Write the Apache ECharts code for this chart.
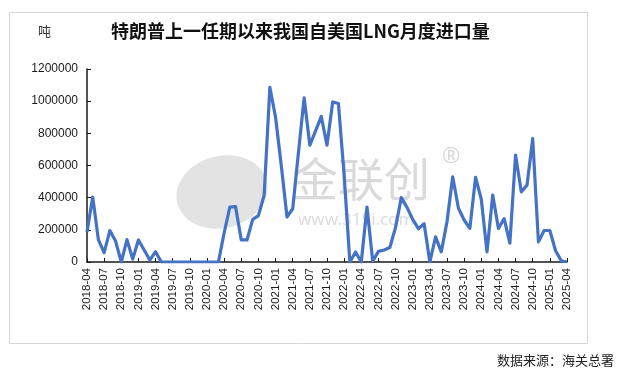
<!DOCTYPE html>
<html><head><meta charset="utf-8">
<script src="https://cdn.jsdelivr.net/npm/echarts@6/dist/echarts.min.js"></script>
<style>html,body{margin:0;padding:0;background:#fff}#c{width:640px;height:382px}</style>
</head><body><div id="c"></div>
<script>
// categories: monthly 2018-04 .. 2025-04
const startYear = 2018, startMonth = 4, monthCount = 85;
const categories = [];
for (let k = 0; k < monthCount; k++) {
  const m = startMonth - 1 + k;
  const y = startYear + Math.floor(m / 12);
  const mm = (m % 12) + 1;
  categories.push(y + '-' + (mm < 10 ? '0' + mm : mm));
}
// monthly LNG imports from the US (tonnes)
const imports = [
  186000, 404000, 137000, 58000, 195000, 130000, 0, 139000, 18000, 137000,
  75000, 12000, 64000, 0, 0, 0, 0, 0, 0, 0,
  0, 0, 0, 0, 180000, 342000, 344000, 137000, 137000, 265000,
  288000, 415000, 1086000, 900000, 600000, 280000, 331000, 680000, 1020000, 726000,
  815000, 905000, 727000, 995000, 985000, 540000, 0, 62000, 0, 342000,
  5000, 66000, 75000, 90000, 215000, 400000, 340000, 265000, 207000, 238000,
  0, 156000, 63000, 250000, 530000, 334000, 261000, 209000, 526000, 390000,
  63000, 416000, 208000, 270000, 117000, 665000, 436000, 478000, 768000, 125000,
  196000, 196000, 70000, 8000, 0
];
const yTicks = { min: 0, max: 1200000, interval: 200000 };
const titleText = '特朗普上一任期以来我国自美国LNG月度进口量';
const unitText = '吨';
const sourceText = '数据来源：海关总署';

const chart = echarts.init(document.getElementById('c'), null, {renderer: 'canvas'});
const axisColor = '#1a1a1a';
chart.setOption({
  animation: false,
  backgroundColor: '#fff',
  grid: { left: 87, right: 73, top: 69, bottom: 120, containLabel: false },
  xAxis: {
    type: 'category',
    data: categories,
    boundaryGap: false,
    axisLine: { lineStyle: { color: axisColor, width: 1.5 } },
    axisTick: { inside: true, length: 4, interval: 2, lineStyle: { color: axisColor } },
    axisLabel: { interval: 2, rotate: 90, margin: 6, color: '#1a1a1a', fontSize: 11.5,
                 fontFamily: 'Liberation Sans, Arial, sans-serif' },
    splitLine: { show: false }
  },
  yAxis: {
    type: 'value',
    min: yTicks.min, max: yTicks.max, interval: yTicks.interval,
    axisLine: { show: true, lineStyle: { color: axisColor, width: 1.5 } },
    axisTick: { show: true, inside: true, length: 4, lineStyle: { color: axisColor } },
    axisLabel: { color: '#1a1a1a', fontSize: 12, margin: 9,
                 formatter: function (v) { return String(v); },
                 fontFamily: 'Liberation Sans, Arial, sans-serif' },
    splitLine: { show: false }
  },
  series: [{
    type: 'line',
    data: imports,
    showSymbol: false,
    symbol: 'none',
    z: 5,
    lineStyle: { color: '#4472C4', width: 3.2, join: 'round' }
  }],
  graphic: [
    { type: 'rect', shape: { x: 9.5, y: 12.5, width: 578, height: 331 },
      style: { fill: 'none', stroke: '#d6d6d6', lineWidth: 1 }, z: -10 },
    // watermark logo
    { type: 'ellipse', shape: { cx: 222, cy: 192, rx: 46, ry: 36 },
      style: { fill: '#e3e3e3' }, rotation: 0.25, originX: 222, originY: 192, z: -5 },
    { type: 'text', left: 292, top: 156, z: -5,
      style: { text: '金联创', fill: '#dadada', fontSize: 46, fontFamily: 'Noto Sans CJK SC' } },
    { type: 'text', left: 442, top: 146, z: -5,
      style: { text: '®', fill: '#d8d8d8', fontSize: 22, fontFamily: 'Noto Sans' } },
    { type: 'text', left: 298, top: 212, z: -5,
      style: { text: 'www.315i.com', fill: '#dcdcdc', fontSize: 17, fontFamily: 'Noto Sans' } },
    // title and unit
    { type: 'text', left: 111, top: 22, z: 10,
      style: { text: titleText, fill: '#111', fontSize: 18, fontWeight: 'bold',
               fontFamily: 'Noto Sans CJK SC' } },
    { type: 'text', left: 38, top: 25, z: 10,
      style: { text: unitText, fill: '#333', fontSize: 13, fontFamily: 'Noto Sans CJK SC' } },
    { type: 'text', left: 497, top: 354, z: 10,
      style: { text: sourceText, fill: '#222', fontSize: 13, fontFamily: 'Noto Sans CJK SC' } }
  ]
});
</script></body></html>
